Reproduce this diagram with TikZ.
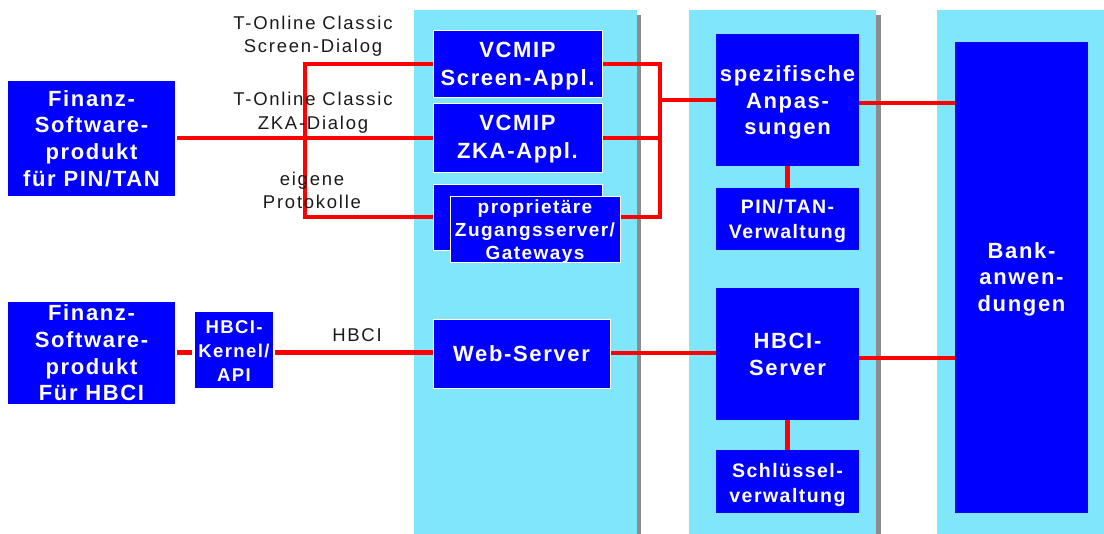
\documentclass[tikz,border=0pt]{standalone}
\usepackage{fontspec}
\setmainfont{Liberation Sans}
\newfontfamily\boldlab[LetterSpace=7.5]{Liberation Sans Bold}
\newfontfamily\plainlab[LetterSpace=9.5]{Liberation Sans}
\definecolor{panelcyan}{HTML}{80E6FC}
\definecolor{shadowgrey}{HTML}{8C8C8C}
\definecolor{boxblue}{HTML}{0000FF}
\definecolor{linered}{HTML}{FF0000}
\definecolor{labelgrey}{HTML}{1A1A1A}
\pgfdeclarelayer{panels}
\pgfdeclarelayer{wires}
\pgfsetlayers{panels,wires,main}
\newcommand{\bfnt}[2]{\boldlab\fontsize{#1}{#2}\selectfont}
\newcommand{\dn}[1]{\rule{0pt}{#1pt}}
\tikzset{
  panel/.style={fill=panelcyan,draw=none},
  shadowbar/.style={fill=shadowgrey,draw=none},
  wire/.style={draw=linered,line width=4.2pt,line cap=butt,line join=miter},
  plainbox/.style={fill=boxblue,draw=none,text=white,align=center,inner sep=0pt,outer sep=0pt,font=\bfnt{22}{26.6}},
  bluebox/.style={plainbox,draw=white,line width=0.9pt},
  boxtext/.style={text=white,align=center,inner sep=0pt,outer sep=0pt},
  flowlabel/.style={text=labelgrey,align=center,inner sep=0pt,font=\plainlab\fontsize{18.5}{23.5}\selectfont},
}
\newcommand{\bx}[6]{%
  \pgfmathsetmacro{\cxx}{(#2+#4)/2}\pgfmathsetmacro{\cyy}{(#3+#5)/2}%
  \pgfmathsetmacro{\wdd}{#4-#2}\pgfmathsetmacro{\htt}{#5-#3}%
  \node[#1,minimum width=\wdd pt,minimum height=\htt pt] #6;}
\begin{document}
\begin{tikzpicture}[x=1pt,y=-1pt]
\useasboundingbox (0,0) rectangle (1104,534);
\begin{pgfonlayer}{panels}
  \fill[shadowbar] (637,15) rectangle (641,534);
  \fill[shadowbar] (876,15) rectangle (881,534);
  \fill[panel] (414,10) rectangle (637,534);
  \fill[panel] (689,10) rectangle (876,534);
  \fill[panel] (937,10) rectangle (1104,534);
\end{pgfonlayer}

\bx{plainbox}{8}{81}{175}{196}{(fin1) at (\cxx,\cyy) {Finanz-\\Software-\\produkt\\für PIN/TAN}}
\bx{plainbox}{8}{302}{175}{404}{(fin2) at (\cxx,\cyy) {Finanz-\\Software-\\produkt\\Für HBCI}}
\bx{plainbox,font=\bfnt{18.5}{24}}{195}{312}{273}{388}{(kernel) at (\cxx,\cyy) {\dn{15.3}HBCI-\\Kernel/\\API}}

\bx{bluebox,font=\bfnt{22}{28}}{433}{30}{602}{97}{(screen) at (\cxx,\cyy) {\dn{20}VCMIP\\Screen-Appl.}}
\bx{bluebox,font=\bfnt{22}{28.5}}{433}{103}{602}{172}{(zka) at (\cxx,\cyy) {\dn{19}VCMIP\\ZKA-Appl.}}
\bx{bluebox}{433}{184}{602}{250}{(propback) at (\cxx,\cyy) {}}
\bx{bluebox}{450}{196}{620}{262}{(prop) at (\cxx,\cyy) {}}
\node[boxtext,font=\bfnt{19}{23}] (proptext) at ([yshift=-2.5pt]prop.center) {proprietäre\\Zugangsserver/\\Gateways};
\bx{bluebox}{433}{319}{610}{388}{(web) at (\cxx,\cyy) {Web-Server}}

\bx{plainbox,font=\bfnt{22}{26.5}}{716}{34}{859}{166}{(spez) at (\cxx,\cyy) {\dn{21}spezifische\\Anpas-\\sungen}}
\bx{plainbox,font=\bfnt{19.5}{25}}{716}{188}{859}{250}{(pin) at (\cxx,\cyy) {\dn{19}PIN/TAN-\\Verwaltung}}
\bx{plainbox,font=\bfnt{22}{27}}{716}{288}{859}{420}{(hserver) at (\cxx,\cyy) {HBCI-\\Server}}
\bx{plainbox,font=\bfnt{19.5}{24.5}}{716}{450}{859}{513}{(key) at (\cxx,\cyy) {\dn{21.2}Schlüssel-\\verwaltung}}
\bx{plainbox,font=\bfnt{22}{26.5}}{955}{42}{1088}{513}{(bank) at (\cxx,\cyy) {\dn{19}Bank-\\anwen-\\dungen}}

\coordinate (leftbus) at (305,138);
\coordinate (rightbus) at (660,100);

\begin{pgfonlayer}{wires}
  \draw[wire] (fin1.east |- 0,138) ++(2,0) -- (zka.west |- 0,138);
  \draw[wire] (screen.west |- 0,64) -- (leftbus |- 0,64) -- (leftbus |- 0,217) -- (propback.west |- 0,217);
  \draw[wire] (screen.east |- 0,64) -- (rightbus |- 0,64) -- (rightbus |- 0,217) -- (prop.east |- 0,217);
  \draw[wire] (zka.east |- 0,138) -- (rightbus |- 0,138);
  \draw[wire] (rightbus) -- (spez.west |- rightbus);
  \draw[wire,shorten >=3pt] (fin2.east |- 0,352.5) ++(2,0) -- (kernel.west |- 0,352.5);
  \draw[wire] (kernel.east |- 0,352.5) ++(2,0) -- (web.west |- 0,352.5);
  \draw[wire] (web.east |- 0,353) -- (hserver.west |- 0,353);
  \draw[wire] (spez.east |- 0,103) -- (bank.west |- 0,103);
  \draw[wire] (hserver.east |- 0,358) -- (bank.west |- 0,358);
  \draw[wire] (spez.south) -- (pin.north);
  \draw[wire] (hserver.south) -- (key.north);
\end{pgfonlayer}

\node[flowlabel] (lab1) at (313,36) {T-Online Classic\\Screen-Dialog};
\node[flowlabel] (lab2) at (313,112.5) {T-Online Classic\\ZKA-Dialog};
\node[flowlabel] (lab3) at (312,190.5) {eigene\\Protokolle};
\node[flowlabel] (lab4) at (357,335) {HBCI};
\end{tikzpicture}
\end{document}
